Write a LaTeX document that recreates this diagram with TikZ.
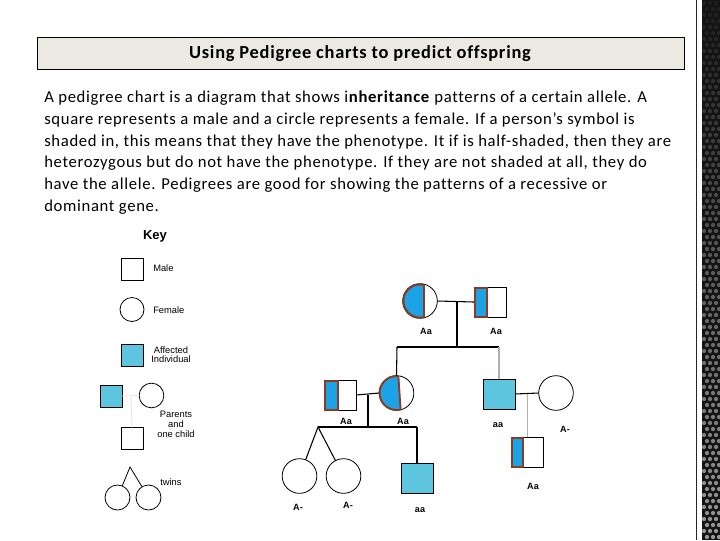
\documentclass[tikz,border=0pt]{standalone}
\usepackage{fontspec}
\setmainfont{Carlito}[LetterSpace=4.0,Ligatures={NoCommon}]
\newfontfamily\keyfont{Liberation Sans}
\usetikzlibrary{calc}
\definecolor{affblue}{RGB}{94,197,222}
\definecolor{halfblue}{RGB}{28,163,230}
\definecolor{brownc}{RGB}{140,58,34}
\definecolor{titlefill}{RGB}{236,233,226}
\definecolor{lgray}{RGB}{175,175,175}
\definecolor{faint}{RGB}{228,228,228}
\newcommand{\halfcirc}[4]{%
  \begin{scope}
    \clip (#1.center) circle[radius=#2];
    \fill[halfblue] ($(#1.center)+(-30,-30)$) -- ($(#1.center)+(#3,-30)$) -- ($(#1.center)+(#4,30)$) -- ($(#1.center)+(-30,30)$) -- cycle;
    \draw[brownc,line width=1.4pt] ($(#1.center)+(#3,-30)$) -- ($(#1.center)+(#4,30)$);
  \end{scope}
  \begin{scope}
    \clip ($(#1.center)+(-30,-30)$) -- ($(#1.center)+(#3,-30)$) -- ($(#1.center)+(#4,30)$) -- ($(#1.center)+(-30,30)$) -- cycle;
    \draw[brownc,line width=1.4pt] (#1.center) circle[radius=#2-0.3pt];
  \end{scope}}
\newcommand{\halfsq}[2]{%
  \draw[brownc,line width=1.4pt,fill=halfblue] ($(#1.north west)+(0.5pt,-0.5pt)$) rectangle ($(#1.south west)!#2!(#1.south east)$);}
\begin{document}
\begin{tikzpicture}[x=0.75pt,y=-0.75pt,
  male/.style={draw=black,rectangle,inner sep=0pt,outer sep=0pt,minimum width=24pt,minimum height=22.5pt,line width=0.6pt},
  female/.style={draw=black,circle,inner sep=0pt,outer sep=0pt,minimum size=26pt,line width=0.6pt},
  kmale/.style={draw=black,rectangle,inner sep=0pt,outer sep=0pt,minimum size=16.5pt,line width=0.6pt},
  kfemale/.style={draw=black,circle,inner sep=0pt,outer sep=0pt,minimum size=18pt,line width=0.6pt},
  affected/.style={fill=affblue},
  rel/.style={draw=black,line width=0.8pt},
  relg/.style={draw=lgray,line width=0.8pt},
  geno/.style={font=\keyfont\bfseries\fontsize{6.8}{7}\selectfont,inner sep=0pt},
  klabel/.style={font=\keyfont\fontsize{7}{8}\selectfont,inner sep=0pt},
  body/.style={anchor=base west,inner sep=0pt,font=\fontsize{12.5}{14}\selectfont}]
\useasboundingbox (0,0) rectangle (720,540);
\fill[white] (0,0) rectangle (720,540);

% right decorative strip
\fill[black!92] (702,0) rectangle (720,540);
\foreach \i in {0,...,89}{
  \pgfmathtruncatemacro{\g}{12+48*\i/89}
  \pgfmathsetmacro{\yy}{3+6*\i}
  \pgfmathsetmacro{\off}{mod(\i,2)*3}
  \foreach \xx in {704,710,716}{
    \fill[white!\g!black] (\xx+\off,\yy) circle[radius=1.6pt];
  }
}
\draw[black!85,line width=1.3pt] (696.5,0) -- (696.5,540);

% title
\node[draw=black,fill=titlefill,line width=0.7pt,minimum width=485.25pt,minimum height=24pt,inner sep=0pt] (title) at (360.5,53) {};
\node[font=\bfseries\fontsize{13.8}{15}\selectfont,anchor=base,inner sep=0pt] (titletext) at (360,58.5) {Using Pedigree charts to predict offspring};

% paragraph
\node[body] (l1) at (44,102) {A pedigree chart is a diagram that shows i\textbf{nheritance} patterns of a certain allele. A};
\node[body] (l2) at (44,124) {square represents a male and a circle represents a female. If a person's symbol is};
\node[body] (l3) at (44,146) {shaded in, this means that they have the phenotype. It if is half-shaded, then they are};
\node[body] (l4) at (44,167.5) {heterozygous but do not have the phenotype. If they are not shaded at all, they do};
\node[body] (l5) at (44,189) {have the allele. Pedigrees are good for showing the patterns of a recessive or};
\node[body] (l6) at (44,211) {dominant gene.};

% key
\node[font=\keyfont\bfseries\fontsize{9.8}{11}\selectfont,inner sep=0pt] (key) at (155,236) {Key};
\node[kmale] (k1) at (132,269) {};
\node[klabel,anchor=west] (k1l) at (153,268) {Male};
\node[kfemale] (k2) at (132,309.5) {};
\node[klabel,anchor=west] (k2l) at (153,310) {Female};
\node[kmale,affected] (k3) at (132.5,355) {};
\node[klabel] (k3l) at (171,350) {Affected};
\node[klabel] (k3m) at (171,359.5) {Individual};
\node[kmale,affected] (k4) at (111,396) {};
\node[kfemale,minimum size=18.5pt] (k5) at (151.5,395.5) {};
\node[kmale] (k6) at (132,438.5) {};
\coordinate (kc) at (131,397);
\draw[faint,line width=0.6pt] (k4.east) -- (k5.west);
\draw[faint,line width=0.6pt] (kc) -- (k6.north);
\node[klabel] (k4l) at (176,414.5) {Parents};
\node[klabel] (k4m) at (176,424) {and};
\node[klabel] (k4n) at (176,434) {one child};
\node[kfemale,minimum size=18.75pt] (k7) at (117.5,497.5) {};
\node[kfemale,minimum size=18.75pt] (k8) at (148.5,497.5) {};
\coordinate (kapex) at (130,467);
\draw[black,line width=0.6pt] (k7) -- (kapex) -- (k8);
\node[klabel,anchor=west] (k7l) at (160,482) {twins};

% pedigree generation 1
\node[female] (f1) at (420,301) {};
\node[male] (m1) at (490,302) {};
\halfcirc{f1}{12.7pt}{4}{4}
\halfsq{m1}{0.4}
\coordinate (c1) at (457,301);
\coordinate (s1l) at (397,347);
\coordinate (s1m) at (457,347);
\coordinate (s1r) at (499,347);
\draw[rel] (f1.east) -- (m1.west);
\draw[rel] (c1) -- (s1m);
\draw[rel] (s1l) -- (s1r);
\node[geno] (g1) at (426,331) {Aa};
\node[geno] (g2) at (496,331) {Aa};

% generation 2
\node[male] (m2) at (340,395) {};
\halfsq{m2}{0.44}
\node[female] (f2) at (396.5,393) {};
\halfcirc{f2}{13pt}{1}{5}
\node[male,affected] (m3) at (499,394) {};
\node[female] (f3) at (556,393) {};
\draw[rel] (s1l) -- (f2.north);
\draw[relg] (s1r) -- (m3.north);
\draw[rel] (m2.east) -- (f2.west);
\draw[rel] (m3.east) -- (f3.west);
\node[geno] (g3) at (346,421) {Aa};
\node[geno] (g4) at (403,421) {Aa};
\node[geno] (g5) at (498,425) {aa};
\node[geno] (g6) at (565,429) {A-};

% generation 3 (left family)
\coordinate (c2) at (368,395);
\coordinate (s2m) at (368,427);
\coordinate (apex) at (318,427);
\coordinate (s2r) at (417,427);
\draw[rel] (c2) -- (s2m);
\draw[rel] (apex) -- (s2r);
\node[female] (t1) at (299.5,476) {};
\node[female] (t2) at (343.5,476) {};
\node[male,affected] (m4) at (417,478) {};
\draw[rel] (t1) -- (apex) -- (t2);
\draw[rel] (s2r) -- (m4.north);
\node[geno] (g7) at (298,507) {A-};
\node[geno] (g8) at (348,505) {A-};
\node[geno] (g9) at (420,510) {aa};

% generation 3 (right family)
\coordinate (c3) at (527.5,394);
\node[male] (m5) at (527.5,452) {};
\halfsq{m5}{0.36}
\draw[relg] (c3) -- (m5.north);
\node[geno] (g10) at (533,486) {Aa};
\end{tikzpicture}
\end{document}
